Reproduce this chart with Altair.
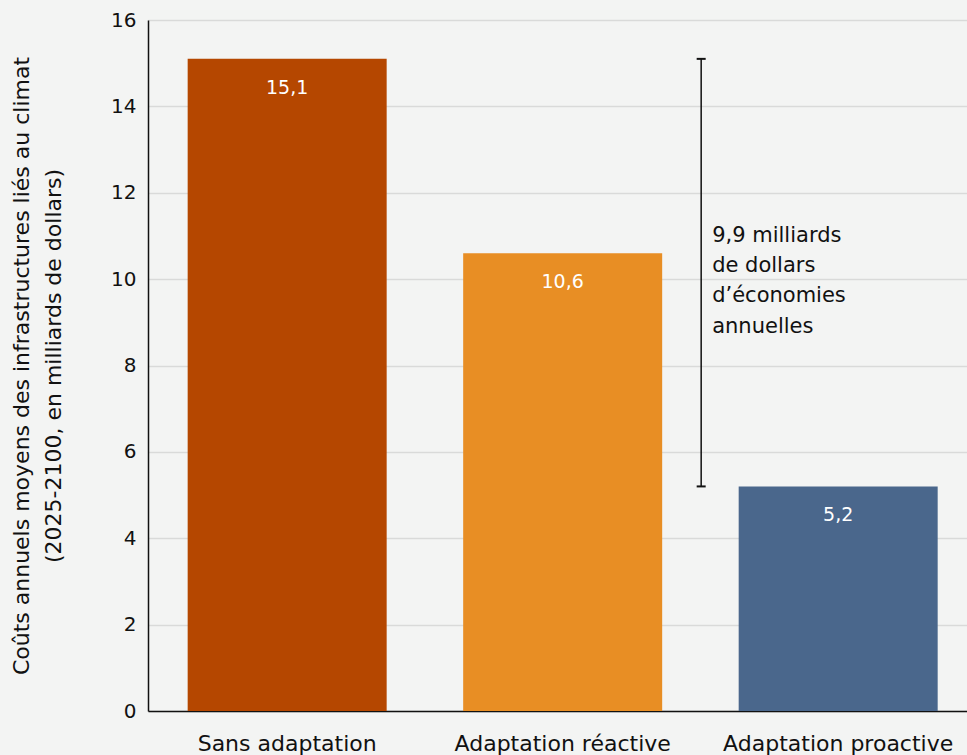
import altair as alt
import pandas as pd

# Scenario names, annual costs (billions of dollars) and bar colours
scenarios = ["Sans adaptation", "Adaptation réactive", "Adaptation proactive"]
costs = [15.1, 10.6, 5.2]
colors = ["#b54700", "#e88e24", "#4a678c"]

y_ticks = [0, 2, 4, 6, 8, 10, 12, 14, 16]
y_title = [
    "Coûts annuels moyens des infrastructures liés au climat",
    "(2025-2100, en milliards de dollars)",
]

FONT = "DejaVu Sans"

bars_df = pd.DataFrame({
    "scenario": scenarios,
    "cost": costs,
    "label": [f"{v:.1f}".replace(".", ",") for v in costs],
})

# Savings bracket between the no-adaptation and proactive scenarios
high, low = costs[0], costs[2]
savings = round(high - low, 1)
bracket_df = pd.DataFrame({
    "scenario": [scenarios[1]],
    "high": [high],
    "low": [low],
    "mid": [(high + low) / 2],
    "note": [f"{savings:.1f}".replace(".", ",") + " milliards\nde dollars\nd’économies\nannuelles"],
})
caps_df = pd.DataFrame({"scenario": [scenarios[1]] * 2, "v": [high, low]})

x_scale = alt.Scale(domain=scenarios, paddingInner=0.2777, paddingOuter=0.1252, align=0.575)
y_scale = alt.Scale(domain=[0, 16], nice=False)

x_enc = alt.X(
    "scenario:N", scale=x_scale, sort=scenarios,
    axis=alt.Axis(title=None, labelAngle=0, ticks=False, domainColor="#111111",
                  domainWidth=1.5, labelFontSize=22, labelColor="#111111",
                  labelPadding=22, labelFont=FONT, labelLimit=0),
)

bars = alt.Chart(bars_df).mark_bar().encode(
    x=x_enc,
    y=alt.Y(
        "cost:Q", scale=y_scale,
        axis=alt.Axis(title=y_title, values=y_ticks, format="d", ticks=False,
                      domainColor="#111111", domainWidth=1.5, gridColor="#d9dad9",
                      gridWidth=1.3, labelFontSize=20, labelColor="#111111",
                      labelPadding=12, labelFont=FONT, titleFont=FONT,
                      titleFontSize=22, titleFontWeight="normal", titleColor="#111111",
                      titlePadding=45, titleLineHeight=32),
    ),
    color=alt.Color("scenario:N", scale=alt.Scale(domain=scenarios, range=colors), legend=None),
)

bar_labels = alt.Chart(bars_df).mark_text(
    color="white", fontSize=19, font=FONT, baseline="middle", dy=29
).encode(
    x=alt.X("scenario:N", scale=x_scale, sort=scenarios),
    y=alt.Y("cost:Q", scale=y_scale),
    text="label:N",
)

# Bracket sits just right of the middle bar
bracket_x = alt.X("scenario:N", scale=x_scale, sort=scenarios, bandPosition=0)

bracket_line = alt.Chart(bracket_df).mark_rule(color="#111111", strokeWidth=1.5).encode(
    x=bracket_x,
    xOffset=alt.value(238),
    y=alt.Y("high:Q", scale=y_scale),
    y2="low:Q",
)

bracket_caps = alt.Chart(caps_df).mark_point(
    shape="M-1,0L1,0", size=81, filled=False, stroke="#111111", strokeWidth=2, opacity=1
).encode(
    x=bracket_x,
    xOffset=alt.value(238),
    y=alt.Y("v:Q", scale=y_scale),
)

bracket_note = alt.Chart(bracket_df).mark_text(
    align="left", baseline="middle", lineBreak="\n", lineHeight=30.3,
    fontSize=21, font=FONT, color="#111111", dx=249, dy=-37
).encode(
    x=bracket_x,
    y=alt.Y("mid:Q", scale=y_scale),
    text="note:N",
)

chart = alt.layer(bars, bar_labels, bracket_line, bracket_caps, bracket_note).properties(
    width=819,
    height=691,
    autosize=alt.AutoSizeParams(type="none"),
    padding={"left": 148, "top": 20, "right": 0, "bottom": 44},
    background="#f3f4f3",
).configure_view(stroke=None)

chart.save("out.html", embed_options={"renderer": "svg", "actions": False})
